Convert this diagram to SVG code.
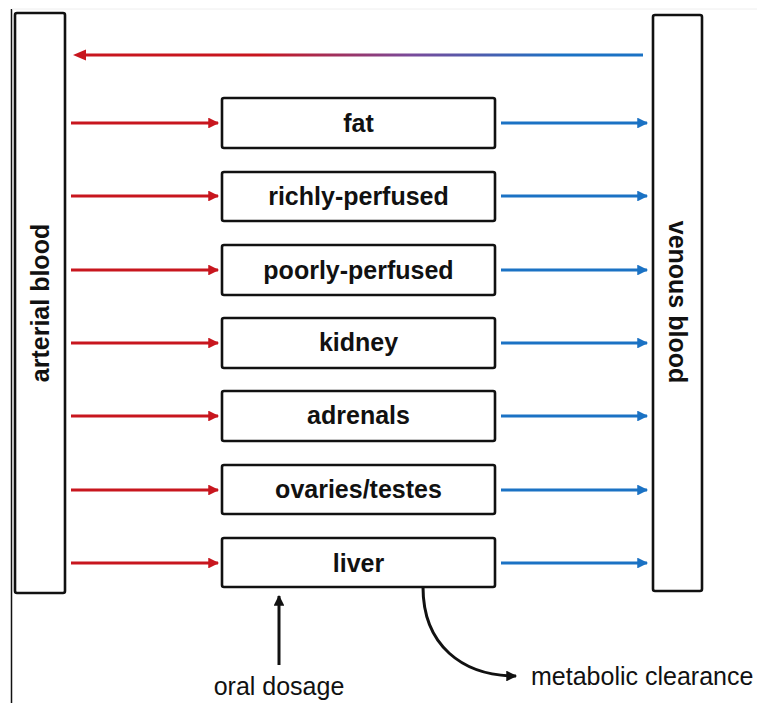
<svg xmlns="http://www.w3.org/2000/svg" width="757" height="703" viewBox="0 0 757 703">
  <style>
    .box { fill: #ffffff; stroke: #111111; stroke-width: 2.6; }
    .lbl { font-family: "Liberation Sans", Arial, sans-serif; font-size: 25px; font-weight: bold; fill: #111111; text-anchor: middle; }
    .note { font-family: "Liberation Sans", Arial, sans-serif; font-size: 25px; fill: #111111; }
    .red { stroke: #c8161e; stroke-width: 3; fill: none; marker-end: url(#headRed); }
    .blue { stroke: #1b72c4; stroke-width: 3; fill: none; marker-end: url(#headBlue); }
    .blk { stroke: #111111; stroke-width: 3; fill: none; marker-end: url(#headBlack); }
  </style>
  <defs>
    <marker id="headRed" viewBox="0 0 10 10" refX="9" refY="5" markerWidth="4" markerHeight="3.6" orient="auto" markerUnits="strokeWidth">
      <path d="M0,0 L10,5 L0,10 z" fill="#c8161e"/>
    </marker>
    <marker id="headBlue" viewBox="0 0 10 10" refX="9" refY="5" markerWidth="4" markerHeight="3.6" orient="auto" markerUnits="strokeWidth">
      <path d="M0,0 L10,5 L0,10 z" fill="#1b72c4"/>
    </marker>
    <marker id="headBlack" viewBox="0 0 10 10" refX="9" refY="5" markerWidth="4" markerHeight="3.6" orient="auto" markerUnits="strokeWidth">
      <path d="M0,0 L10,5 L0,10 z" fill="#111111"/>
    </marker>
    <linearGradient id="returnGrad" gradientUnits="userSpaceOnUse" x1="260" y1="0" x2="560" y2="0">
      <stop offset="0" stop-color="#c8161e"/>
      <stop offset="0.5" stop-color="#7a4a9a"/>
      <stop offset="1" stop-color="#1b72c4"/>
    </linearGradient>
  </defs>

  <rect width="757" height="703" fill="#ffffff"/>
  <!-- frame edges -->
  <line x1="11.5" y1="9" x2="11.5" y2="703" stroke="#111111" stroke-width="1.5"/>
  <line x1="12" y1="9" x2="757" y2="9" stroke="#eeeeee" stroke-width="1"/>

  <g id="arterial-blood">
    <rect class="box" x="15" y="13" width="50" height="580" rx="2"/>
    <text class="lbl" transform="translate(49,303) rotate(-90)">arterial blood</text>
  </g>
  <g id="venous-blood">
    <rect class="box" x="653" y="15" width="49" height="576" rx="2"/>
    <text class="lbl" transform="translate(669,302) rotate(90)">venous blood</text>
  </g>

  <g id="fat"><rect class="box" x="222" y="98" width="273" height="50" rx="2"/><text class="lbl" x="358.5" y="132">fat</text></g>
  <g id="richly-perfused"><rect class="box" x="222" y="172" width="273" height="49" rx="2"/><text class="lbl" x="358.5" y="205">richly-perfused</text></g>
  <g id="poorly-perfused"><rect class="box" x="222" y="245" width="273" height="50" rx="2"/><text class="lbl" x="358.5" y="279">poorly-perfused</text></g>
  <g id="kidney"><rect class="box" x="222" y="318" width="273" height="50" rx="2"/><text class="lbl" x="358.5" y="351">kidney</text></g>
  <g id="adrenals"><rect class="box" x="222" y="391" width="273" height="50" rx="2"/><text class="lbl" x="358.5" y="424">adrenals</text></g>
  <g id="ovaries-testes"><rect class="box" x="222" y="465" width="273" height="49" rx="2"/><text class="lbl" x="358.5" y="498">ovaries/testes</text></g>
  <g id="liver"><rect class="box" x="222" y="538" width="273" height="49" rx="2"/><text class="lbl" x="358.5" y="572">liver</text></g>

  <g id="oral-dosage-label"><text class="note" x="279" y="695" text-anchor="middle">oral dosage</text></g>
  <g id="metabolic-clearance-label"><text class="note" x="531" y="685">metabolic clearance</text></g>

  <g id="connectors">
    <!-- venous return to arterial side -->
    <line x1="643" y1="55" x2="86" y2="55" stroke="url(#returnGrad)" stroke-width="3"/>
    <path d="M73,55 L86,49.5 L86,60.5 z" fill="#c8161e"/>

    <!-- arterial supply -->
    <line class="red" x1="71" y1="123" x2="218" y2="123"/>
    <line class="red" x1="71" y1="196" x2="218" y2="196"/>
    <line class="red" x1="71" y1="270" x2="218" y2="270"/>
    <line class="red" x1="71" y1="343" x2="218" y2="343"/>
    <line class="red" x1="71" y1="416" x2="218" y2="416"/>
    <line class="red" x1="71" y1="490" x2="218" y2="490"/>
    <line class="red" x1="71" y1="563" x2="218" y2="563"/>

    <!-- venous drainage -->
    <line class="blue" x1="501" y1="123" x2="647" y2="123"/>
    <line class="blue" x1="501" y1="196" x2="647" y2="196"/>
    <line class="blue" x1="501" y1="270" x2="647" y2="270"/>
    <line class="blue" x1="501" y1="343" x2="647" y2="343"/>
    <line class="blue" x1="501" y1="416" x2="647" y2="416"/>
    <line class="blue" x1="501" y1="490" x2="647" y2="490"/>
    <line class="blue" x1="501" y1="563" x2="647" y2="563"/>

    <!-- oral dose into liver -->
    <line class="blk" x1="279" y1="665" x2="279" y2="596"/>
    <!-- hepatic clearance -->
    <path class="blk" d="M423,587 C423,645 462,676 516,676"/>
  </g>
</svg>
